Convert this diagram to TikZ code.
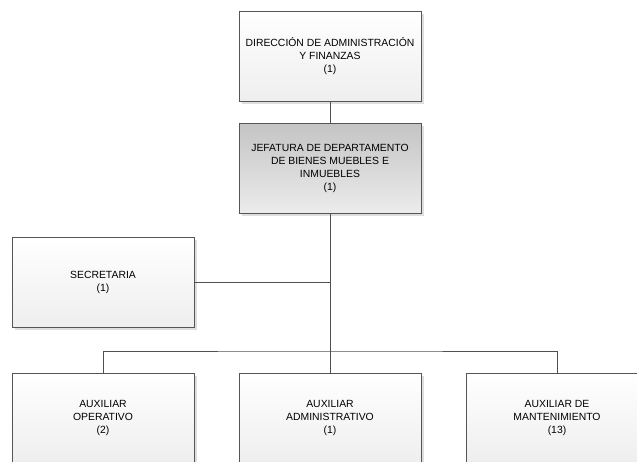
\documentclass[tikz,border=0pt]{standalone}
\usepackage{fontspec}
\setmainfont{Liberation Sans}
\usetikzlibrary{positioning,shadows,calc}
\definecolor{boxline}{RGB}{85,85,85}
\definecolor{edgeline}{RGB}{80,80,80}
\definecolor{softgray}{RGB}{238,238,238}
\definecolor{midgray}{RGB}{196,196,196}
\definecolor{lightgray}{RGB}{236,236,236}
\definecolor{shadegray}{RGB}{222,222,222}
\tikzset{
  orgbox/.style={draw=boxline,line width=0.9pt,minimum width=182pt,minimum height=90pt,
    align=center,inner sep=3pt,font=\fontsize{10.4}{13}\selectfont,
    top color=white,bottom color=softgray,
    drop shadow={shadow xshift=3pt,shadow yshift=-3pt,fill=shadegray,opacity=1}},
  orgboxd/.style={orgbox,top color=midgray,bottom color=lightgray},
  orgedge/.style={draw=edgeline,line width=0.8pt}
}
\begin{document}
\begin{tikzpicture}[x=1pt,y=-1pt]
  \useasboundingbox (0,0) rectangle (637,462);
  \clip (0,0) rectangle (637,462);
  \node[orgbox] (dir) at (330,56) {DIRECCIÓN DE ADMINISTRACIÓN\\Y FINANZAS\\(1)};
  \node[orgboxd] (jef) at (330,168.5) {JEFATURA DE DEPARTAMENTO\\DE BIENES MUEBLES E\\INMUEBLES\\(1)};
  \node[orgbox] (sec) at (103,282) {SECRETARIA\\(1)};
  \node[orgbox] (aux1) at (103,418) {AUXILIAR\\OPERATIVO\\(2)};
  \node[orgbox] (aux2) at (330,418) {AUXILIAR\\ADMINISTRATIVO\\(1)};
  \node[orgbox] (aux3) at (557,418) {AUXILIAR DE\\MANTENIMIENTO\\(13)};
  \coordinate (bus) at (330,351);
  \draw[orgedge] (dir) -- (jef);
  \draw[orgedge] (jef) -- (aux2);
  \draw[orgedge] (sec.east) -- (sec.east -| jef.south);
  \draw[orgedge] (aux1.north) |- (bus) -| (aux3.north);
\end{tikzpicture}
\end{document}
